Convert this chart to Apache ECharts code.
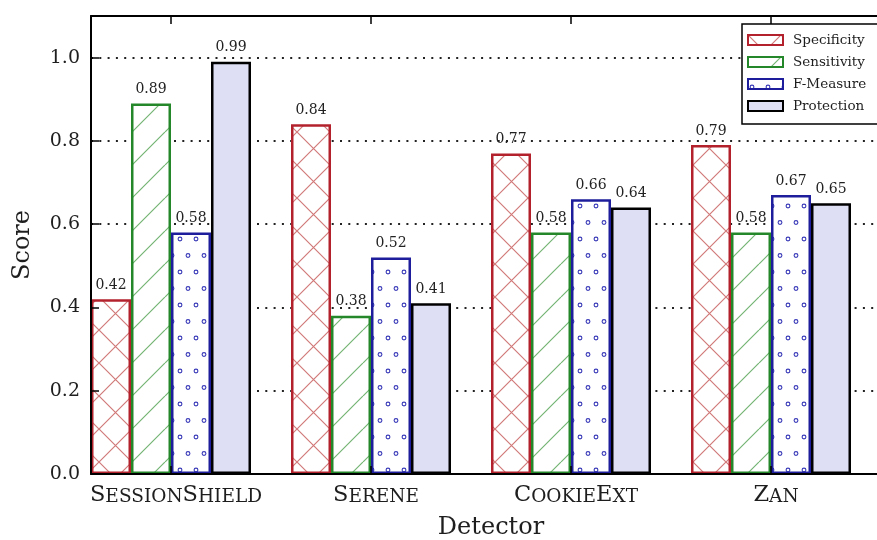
<!DOCTYPE html>
<html><head><meta charset="utf-8">
<script src="https://cdn.jsdelivr.net/npm/echarts@6/dist/echarts.min.js"></script>
<style>html,body{margin:0;padding:0;background:#fff}#c{width:877px;height:540px}</style>
</head><body><div id="c"></div>
<script>
const categories = ['SessionShield', 'Serene', 'CookieExt', 'Zan'];
const seriesNames = ['Specificity', 'Sensitivity', 'F-Measure', 'Protection'];
const specificity = [0.42, 0.84, 0.77, 0.79];
const sensitivity = [0.89, 0.38, 0.58, 0.58];
const fMeasure = [0.58, 0.52, 0.66, 0.67];
const protection = [0.99, 0.41, 0.64, 0.65];
const yTicks = [0.0, 0.2, 0.4, 0.6, 0.8, 1.0];

const FONT = 'DejaVu Serif';
const TEXT = '#1e1e1e';

function makePattern(kind) {
  const c = document.createElement('canvas');
  let W = 33, H = 33;
  if (kind === 'o') { W = 16; H = 33; }
  c.width = W; c.height = H;
  const g = c.getContext('2d');
  g.fillStyle = '#fff';
  g.fillRect(0, 0, W, H);
  if (kind === 'x' || kind === '/') {
    g.strokeStyle = kind === 'x' ? '#d27a7a' : '#74b474';
    g.lineWidth = 1.2;
    g.beginPath();
    for (let k = -1; k <= 1; k++) {
      g.moveTo(k * W, H); g.lineTo(k * W + W, 0);
      if (kind === 'x') { g.moveTo(k * W, 0); g.lineTo(k * W + W, H); }
    }
    g.stroke();
  } else if (kind === 'o') {
    g.strokeStyle = '#3838b8';
    g.lineWidth = 1.1;
    [[4, 8], [12, 24.5]].forEach(([x, y]) => {
      g.beginPath(); g.arc(x, y, 1.9, 0, Math.PI * 2); g.stroke();
    });
  }
  return { image: c, repeat: 'repeat' };
}

const styles = [
  { color: makePattern('x'), borderColor: '#b3222c' },
  { color: makePattern('/'), borderColor: '#24882a' },
  { color: makePattern('o'), borderColor: '#1e1e9c' },
  { color: '#dedff5', borderColor: '#000' }
];
const valuesList = [specificity, sensitivity, fMeasure, protection];

function smallCaps(s) {
  let out = '', i = 0;
  while (i < s.length) {
    const up = s[i] === s[i].toUpperCase();
    let j = i;
    while (j < s.length && (s[j] === s[j].toUpperCase()) === up) j++;
    out += '{' + (up ? 'b' : 's') + '|' + s.slice(i, j).toUpperCase() + '}';
    i = j;
  }
  return out;
}

const chart = echarts.init(document.getElementById('c'), null, { renderer: 'canvas' });

const xCommon = {
  type: 'value', min: -0.4, max: 3.6, minInterval: 1, maxInterval: 1,
  axisLine: { show: true, onZero: false, lineStyle: { color: '#000', width: 2 } },
  axisTick: { show: true, inside: true, length: 8, lineStyle: { color: '#000', width: 1.5 } },
  splitLine: { show: false },
  z: 3
};

const option = {
  animation: false,
  backgroundColor: '#fff',
  grid: { left: 91, top: 16, width: 800, height: 458, containLabel: false, outerBoundsMode: 'none' },
  legend: {
    orient: 'vertical', left: 742, top: 24,
    padding: [9, 30, 11, 5],
    itemWidth: 35, itemHeight: 10, itemGap: 8,
    borderColor: '#000', borderWidth: 1.5, backgroundColor: '#fff',
    icon: 'rect', selectedMode: false,
    textStyle: { fontFamily: FONT, fontSize: 13.5, color: TEXT, padding: [0, 0, 0, 5] },
    data: seriesNames.map((n, i) => ({ name: n, itemStyle: { color: styles[i].color, borderColor: styles[i].borderColor, borderWidth: 2 } }))
  },
  xAxis: [
    Object.assign({}, xCommon, {
      position: 'bottom',
      axisLabel: {
        margin: 10,
        padding: [0, 0, 0, 10],
        formatter: v => Number.isInteger(v) && categories[v] ? smallCaps(categories[v]) : '',
        rich: {
          b: { fontFamily: FONT, fontSize: 22.5, color: TEXT, verticalAlign: 'bottom' },
          s: { fontFamily: FONT, fontSize: 18.5, color: TEXT, verticalAlign: 'bottom' }
        }
      },
      name: 'Detector', nameLocation: 'middle', nameGap: 42,
      nameTextStyle: { fontFamily: FONT, fontSize: 24, color: TEXT }
    }),
    Object.assign({}, xCommon, { position: 'top', axisLabel: { show: false } })
  ],
  yAxis: [
    {
      type: 'value', min: 0, max: 1.1, interval: 0.2,
      axisLine: { show: false }, axisTick: { show: false }, axisLabel: { show: false },
      splitLine: { show: true, lineStyle: { color: '#222', width: 2, type: [2, 6.3] } },
      z: 0
    },
    {
      type: 'value', min: 0, max: 1.1, interval: 0.2, position: 'left',
      axisLine: { show: true, onZero: false, lineStyle: { color: '#000', width: 2 } },
      axisTick: { show: true, inside: true, length: 8, lineStyle: { color: '#000', width: 1.5 } },
      splitLine: { show: false },
      axisLabel: {
        margin: 11, fontFamily: FONT, fontSize: 19, color: TEXT,
        formatter: v => yTicks.some(t => Math.abs(t - v) < 1e-6) ? v.toFixed(1) : ''
      },
      name: 'Score', nameLocation: 'middle', nameGap: 56,
      nameTextStyle: { fontFamily: FONT, fontSize: 24, color: TEXT },
      z: 3
    }
  ],
  series: seriesNames.map((n, si) => ({
    name: n, type: 'bar', xAxisIndex: 0, yAxisIndex: 0,
    barWidth: 40, barGap: '0%',
    data: valuesList[si].map((v, i) => [i, v]),
    itemStyle: { color: styles[si].color, borderColor: styles[si].borderColor, borderWidth: 2.5 },
    label: {
      show: true, position: 'top', distance: 7,
      fontFamily: FONT, fontSize: 14, color: '#222',
      formatter: p => p.value[1].toFixed(2)
    },
    z: 2
  }))
};
chart.setOption(option);
</script></body></html>
